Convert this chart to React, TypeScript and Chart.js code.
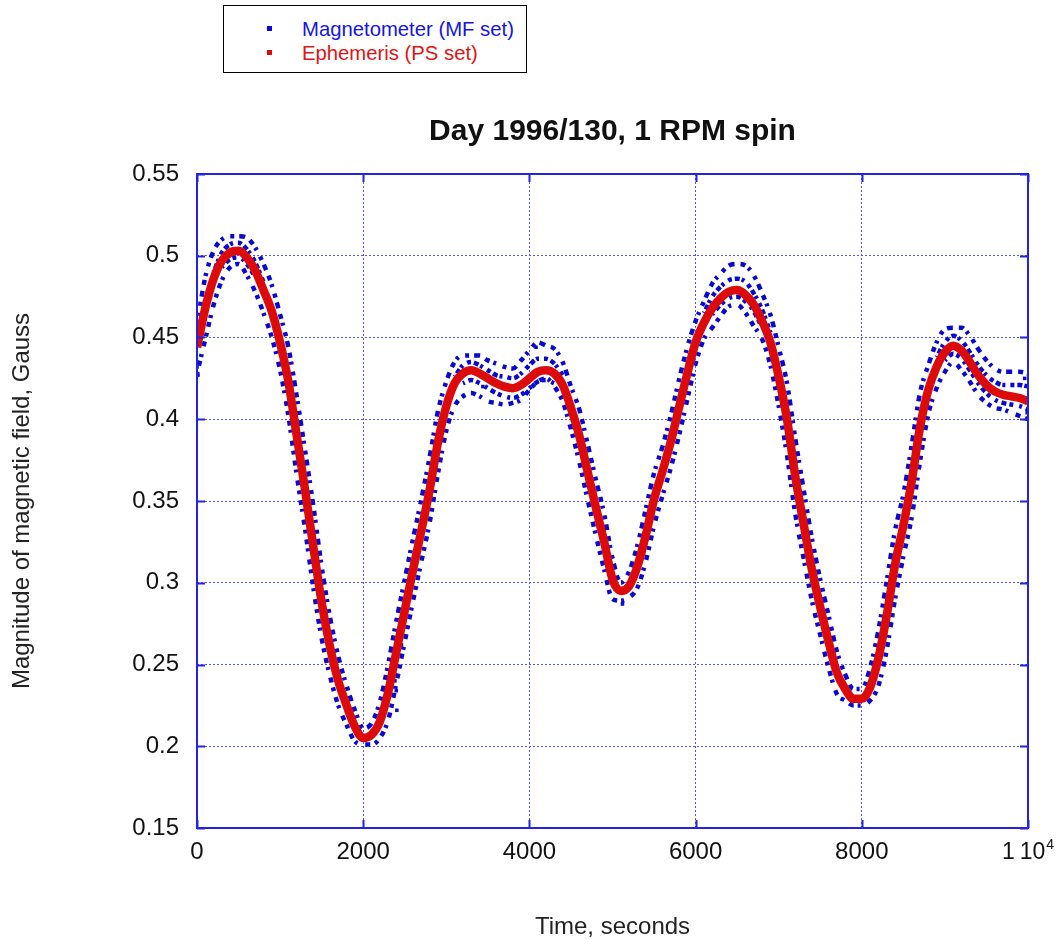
import React, { useEffect, useRef } from "react";
import { Chart, registerables } from "chart.js";

Chart.register(...registerables);

const _ = null;

const TITLE = "Day 1996/130, 1 RPM spin";
const X_LABEL = "Time, seconds";
const Y_LABEL = "Magnitude of magnetic field, Gauss";
const LEGEND_MF = "Magnetometer (MF set)";
const LEGEND_PS = "Ephemeris (PS set)";
const X_LAST_COEF = "1";
const X_LAST_BASE = "10";
const X_LAST_EXPONENT = "4";

// sampling step of the series below, in seconds
const SAMPLE_STEP = 100;

const X_TICKS = [0, 2000, 4000, 6000, 8000, 10000];
const Y_TICKS = [0.15, 0.2, 0.25, 0.3, 0.35, 0.4, 0.45, 0.5, 0.55];

// Ephemeris (PS set), one value every 100 s from 0 to 10000 s
const EPHEMERIS = [
  0.444, 0.468, 0.486, 0.497, 0.502, 0.503, 0.499, 0.491, 0.479, 0.466,
  0.447, 0.423, 0.39, 0.357, 0.322, 0.288, 0.261, 0.24, 0.225, 0.212,
  0.205, 0.207, 0.215, 0.233, 0.258, 0.283, 0.308, 0.332, 0.357, 0.386,
  0.408, 0.422, 0.428, 0.43, 0.428, 0.425, 0.422, 0.42, 0.419, 0.421,
  0.425, 0.429, 0.43, 0.428, 0.421, 0.407, 0.39, 0.368, 0.346, 0.325,
  0.302, 0.295, 0.298, 0.31, 0.329, 0.351, 0.368, 0.386, 0.407, 0.428,
  0.447, 0.459, 0.468, 0.474, 0.478, 0.479, 0.476, 0.47, 0.46, 0.447,
  0.426, 0.4, 0.365, 0.336, 0.308, 0.285, 0.264, 0.245, 0.235, 0.229,
  0.229, 0.236, 0.254, 0.28, 0.311, 0.335, 0.362, 0.395, 0.418, 0.432,
  0.441, 0.445, 0.442, 0.435, 0.427, 0.421, 0.417, 0.415, 0.414, 0.413,
  0.411,
];

// Magnetometer (MF set): upper edge of the scatter band
const MF_UPPER = [
  0.458, 0.487, 0.503, 0.51, 0.512, 0.512, 0.511, 0.505, 0.495, 0.482,
  0.464, 0.444, 0.414, 0.381, 0.347, 0.31, 0.279, 0.255, 0.237, 0.222,
  0.211, 0.214, 0.227, 0.25, 0.277, 0.302, 0.327, 0.351, 0.377, 0.405,
  0.423, 0.435, 0.439, 0.439, 0.439, 0.436, 0.434, 0.432, 0.431, 0.436,
  0.442, 0.447, 0.445, 0.443, 0.435, 0.42, 0.406, 0.385, 0.363, 0.342,
  0.315, 0.3, 0.307, 0.323, 0.345, 0.367, 0.383, 0.402, 0.424, 0.444,
  0.46, 0.472, 0.483, 0.489, 0.494, 0.495, 0.494, 0.488, 0.477, 0.464,
  0.444, 0.422, 0.388, 0.357, 0.327, 0.302, 0.28, 0.258, 0.244, 0.235,
  0.235, 0.248, 0.271, 0.301, 0.332, 0.354, 0.384, 0.416, 0.433, 0.447,
  0.455, 0.456, 0.456, 0.451, 0.443, 0.436, 0.431, 0.429, 0.429, 0.429,
  0.428,
];

// Magnetometer (MF set): lower edge of the scatter band
const MF_LOWER = [
  0.428, 0.449, 0.47, 0.485, 0.493, 0.495, 0.488, 0.478, 0.465, 0.45,
  0.43, 0.402, 0.366, 0.333, 0.297, 0.266, 0.243, 0.225, 0.213, 0.203,
  0.201, 0.201, 0.205, 0.216, 0.239, 0.264, 0.289, 0.313, 0.337, 0.367,
  0.393, 0.408, 0.414, 0.416, 0.414, 0.411, 0.41, 0.409, 0.41, 0.412,
  0.418, 0.423, 0.425, 0.42, 0.411, 0.394, 0.374, 0.351, 0.329, 0.308,
  0.29, 0.289, 0.291, 0.297, 0.313, 0.335, 0.353, 0.37, 0.39, 0.412,
  0.434, 0.449, 0.456, 0.463, 0.469, 0.47, 0.465, 0.457, 0.449, 0.433,
  0.408, 0.378, 0.342, 0.315, 0.289, 0.268, 0.248, 0.232, 0.228, 0.225,
  0.225, 0.228, 0.237, 0.259, 0.29, 0.316, 0.34, 0.374, 0.403, 0.419,
  0.429, 0.435, 0.43, 0.423, 0.415, 0.41, 0.407, 0.406, 0.404, 0.402,
  0.4,
];

// Magnetometer (MF set): extra tracks seen around the maxima
const MF_MID_HI = [
  _, _, 0.49, 0.502, 0.507, 0.508, 0.504, 0.496, 0.484, _,
  _, _, _, _, _, _, _, _, _, _,
  _, _, _, _, _, _, _, _, _, _,
  _, 0.426, 0.433, 0.435, 0.433, 0.43, 0.427, 0.426, 0.425, 0.428,
  0.433, 0.437, 0.437, 0.434, 0.427, _, _, _, _, _,
  _, _, _, _, _, _, _, _, _, _,
  _, 0.465, 0.475, 0.481, 0.485, 0.486, 0.484, 0.477, 0.467, 0.453,
  _, _, _, _, _, _, _, _, _, _,
  _, _, _, _, _, _, _, _, _, 0.438,
  0.447, 0.451, 0.448, 0.441, 0.433, 0.427, 0.423, 0.421, 0.421, 0.421,
  0.42,
];

const MF_MID_LO = [
  _, _, _, 0.493, 0.498, 0.499, 0.495, 0.487, _, _,
  _, _, _, _, _, _, _, _, _, _,
  _, _, _, _, _, _, _, _, _, _,
  _, _, 0.422, 0.424, 0.422, 0.419, 0.416, 0.414, 0.413, 0.415,
  0.419, 0.423, 0.424, 0.422, _, _, _, _, _, _,
  _, _, _, _, _, _, _, _, _, _,
  _, _, 0.464, 0.47, 0.474, 0.475, 0.472, 0.466, 0.456, _,
  _, _, _, _, _, _, _, _, _, _,
  _, _, _, _, _, _, _, _, _, _,
  0.436, 0.44, 0.437, 0.43, 0.422, 0.416, 0.412, 0.41, 0.409, 0.408,
  0.406,
];

// Magnetometer (MF set): isolated samples
const MF_OUTLIER_T = [0, 12, 2382, 2398, 2405, 2460, 3440, 4080, 5120, 9960, 9990];
const MF_OUTLIER_V = [0.432, 0.427, 0.24, 0.234, 0.222, 0.262, 0.42, 0.444, 0.287, 0.425, 0.404];

const BLUE = "#0808d0";
const RED = "#dd0a0a";
const FRAME = "#2323e6";
const GRID = "#5252ff";
const FONT = '"Liberation Sans", Arial, Helvetica, sans-serif';

const series = (vals: (number | null)[]) =>
  vals.map((v, i) => ({ x: i * SAMPLE_STEP, y: v }));

const framePlugin = {
  id: "framePlugin",
  afterDraw(chart: any) {
    const { ctx, chartArea: a, scales } = chart;
    const xs = scales.x;
    const ys = scales.y;
    ctx.save();
    ctx.strokeStyle = FRAME;
    ctx.lineWidth = 2;
    ctx.strokeRect(a.left, a.top, a.right - a.left, a.bottom - a.top);
    const L = 8;
    ctx.beginPath();
    X_TICKS.forEach((v) => {
      const px = Math.round(xs.getPixelForValue(v)) + 0.5;
      ctx.moveTo(px, a.bottom);
      ctx.lineTo(px, a.bottom - L);
      ctx.moveTo(px, a.top);
      ctx.lineTo(px, a.top + L);
    });
    Y_TICKS.forEach((v) => {
      const py = Math.round(ys.getPixelForValue(v)) + 0.5;
      ctx.moveTo(a.left, py);
      ctx.lineTo(a.left + L, py);
      ctx.moveTo(a.right, py);
      ctx.lineTo(a.right - L, py);
    });
    ctx.stroke();

    // last x tick label "1 10^4" with a raised exponent
    const lastX = xs.getPixelForValue(X_TICKS[X_TICKS.length - 1]);
    ctx.fillStyle = "#111";
    ctx.textBaseline = "alphabetic";
    ctx.textAlign = "left";
    ctx.font = `23px ${FONT}`;
    let px = lastX - 26;
    ctx.fillText(X_LAST_COEF, px, a.bottom + 31);
    px += ctx.measureText(X_LAST_COEF).width + 5;
    ctx.fillText(X_LAST_BASE, px, a.bottom + 31);
    px += ctx.measureText(X_LAST_BASE).width + 1;
    ctx.font = `14px ${FONT}`;
    ctx.fillText(X_LAST_EXPONENT, px, a.bottom + 21);

    const cx = (a.left + a.right) / 2;
    ctx.textAlign = "center";
    ctx.textBaseline = "middle";
    ctx.font = `bold 30px ${FONT}`;
    ctx.fillText(TITLE, cx, a.top - 42);
    ctx.fillStyle = "#222";
    ctx.font = `24px ${FONT}`;
    ctx.fillText(X_LABEL, cx, a.bottom + 99);
    ctx.translate(22, (a.top + a.bottom) / 2);
    ctx.rotate(-Math.PI / 2);
    ctx.fillText(Y_LABEL, 0, 0);
    ctx.restore();
  },
};

export default function App() {
  const ref = useRef<HTMLCanvasElement>(null);

  useEffect(() => {
    if (!ref.current) return;
    const bandLine = (data: any[], dash: number[], offset: number) => ({
      label: LEGEND_MF,
      data,
      borderColor: BLUE,
      backgroundColor: BLUE,
      borderWidth: 4.5,
      borderDash: dash,
      borderDashOffset: offset,
      borderCapStyle: "butt",
      pointRadius: 0,
      cubicInterpolationMode: "monotone",
      spanGaps: false,
      fill: false,
      clip: 0,
    });
    const chart = new Chart(ref.current, {
      type: "line",
      data: {
        datasets: [
          {
            label: LEGEND_PS,
            data: series(EPHEMERIS),
            borderColor: RED,
            backgroundColor: RED,
            borderWidth: 8.5,
            pointRadius: 0,
            cubicInterpolationMode: "monotone",
            fill: false,
            clip: 0,
          } as any,
          bandLine(series(MF_UPPER), [5, 4, 3, 7, 4, 5, 6, 6], 0),
          bandLine(series(MF_LOWER), [4, 6, 5, 4, 3, 8, 5, 5], 2),
          bandLine(series(MF_MID_HI), [4, 3, 5, 2, 3, 5], 3),
          bandLine(series(MF_MID_LO), [3, 4, 5, 3, 4, 6], 1),
          {
            label: LEGEND_MF,
            type: "scatter",
            data: MF_OUTLIER_T.map((t, i) => ({ x: t, y: MF_OUTLIER_V[i] })),
            pointStyle: "rect",
            pointRadius: 2.5,
            backgroundColor: BLUE,
            borderWidth: 0,
            showLine: false,
            clip: 0,
          } as any,
        ],
      },
      options: {
        animation: false,
        responsive: false,
        maintainAspectRatio: false,
        layout: { padding: { top: 174, right: 32, bottom: 0, left: 0 } },
        plugins: {
          legend: { display: false },
          title: { display: false },
          tooltip: { enabled: false },
        },
        scales: {
          x: {
            type: "linear",
            min: 0,
            max: 10000,
            afterBuildTicks: (s: any) => {
              s.ticks = X_TICKS.map((v) => ({ value: v }));
            },
            afterFit: (s: any) => {
              s.height = 111;
              s.paddingLeft = 0;
              s.paddingRight = 0;
            },
            ticks: {
              autoSkip: false,
              maxRotation: 0,
              padding: 10,
              color: "#111",
              font: { family: FONT, size: 24 },
              callback: (v: any) => (Number(v) === 10000 ? "" : String(v)),
            },
            grid: { color: GRID, lineWidth: 1, drawTicks: false },
            border: { display: false, dash: [2, 2] },
          },
          y: {
            type: "linear",
            min: 0.15,
            max: 0.55,
            afterBuildTicks: (s: any) => {
              s.ticks = Y_TICKS.map((v) => ({ value: v }));
            },
            afterFit: (s: any) => {
              s.width = 197;
              s.paddingTop = 0;
              s.paddingBottom = 0;
            },
            ticks: {
              padding: 18,
              color: "#111",
              font: { family: FONT, size: 24 },
              callback: (v: any) => String(Number(Number(v).toFixed(2))),
            },
            grid: { color: GRID, lineWidth: 1, drawTicks: false },
            border: { display: false, dash: [2, 2] },
          },
        },
      } as any,
      plugins: [framePlugin],
    });
    return () => chart.destroy();
  }, []);

  return (
    <div
      style={{
        position: "absolute",
        left: 0,
        top: 0,
        width: 1060,
        height: 939,
        background: "#fff",
        overflow: "hidden",
      }}
    >
      <canvas
        ref={ref}
        width={1060}
        height={939}
        style={{ position: "absolute", left: 0, top: 0, width: 1060, height: 939 }}
      />
      <div
        style={{
          position: "absolute",
          left: 223,
          top: 5,
          width: 304,
          height: 68,
          boxSizing: "border-box",
          border: "1.5px solid #000",
          background: "#fff",
          fontFamily: FONT,
          fontSize: 20.3,
        }}
      >
        <div style={{ position: "absolute", left: 43, top: 20, width: 5, height: 5, background: BLUE }} />
        <div style={{ position: "absolute", left: 78, top: 11, color: "#1515e0", whiteSpace: "nowrap", lineHeight: "24px" }}>
          {LEGEND_MF}
        </div>
        <div style={{ position: "absolute", left: 43, top: 44, width: 5, height: 5, background: RED }} />
        <div style={{ position: "absolute", left: 78, top: 35, color: "#e01515", whiteSpace: "nowrap", lineHeight: "24px" }}>
          {LEGEND_PS}
        </div>
      </div>
    </div>
  );
}
